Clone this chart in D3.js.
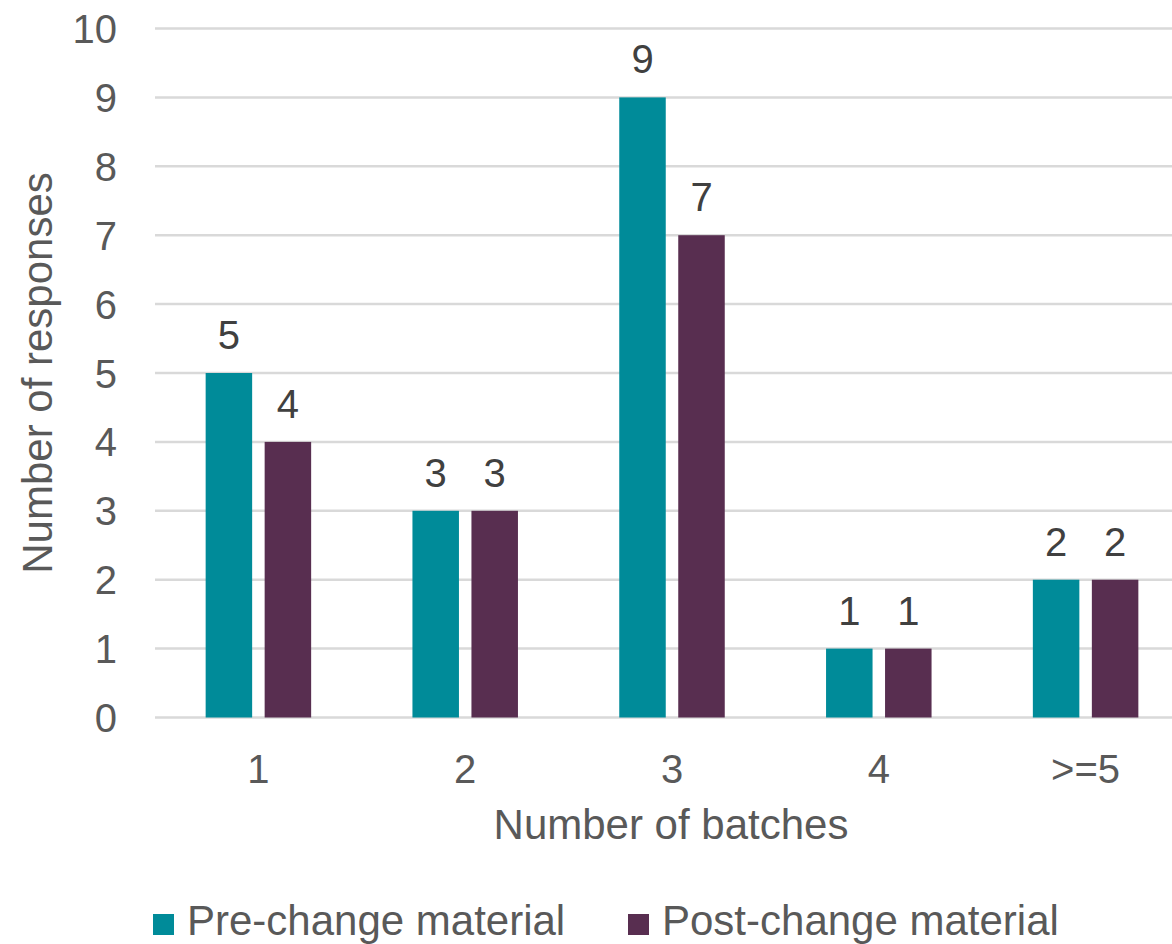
<!DOCTYPE html>
<html>
<head>
<meta charset="utf-8">
<script src="https://cdn.jsdelivr.net/npm/d3@7"></script>
<style>
  html, body { margin: 0; padding: 0; background: #fff; overflow: hidden; }
  svg { display: block; font-family: "Liberation Sans", Arial, sans-serif; }
</style>
</head>
<body>
<svg id="chart" width="1172" height="944"></svg>
<script>
// Survey responses by number of batches
const categories = ["1", "2", "3", "4", ">=5"];
const seriesNames = ["Pre-change material", "Post-change material"];
const preChange = [5, 3, 9, 1, 2];
const postChange = [4, 3, 7, 1, 2];
const yTicks = [0, 1, 2, 3, 4, 5, 6, 7, 8, 9, 10];
const colors = ["#008B99", "#582E50"];

const svg = d3.select("#chart");
const margin = { left: 155, right: -17, top: 28.5, bottom: 226.5 };
const W = 1172, H = 944;

const x = d3.scaleBand()
  .domain(categories)
  .range([margin.left, W - margin.right])
  .paddingInner(0).paddingOuter(0);

const y = d3.scaleLinear()
  .domain([0, 10])
  .range([H - margin.bottom, margin.top]);

const rows = categories.map((c, i) => ({ cat: c, values: [preChange[i], postChange[i]] }));

// two bars per category with a small gap between them
const barW = 46.5, barGap = 12.5;
const xs = d3.scaleBand()
  .domain([0, 1])
  .range([-(barW + barGap / 2), barW + barGap / 2])
  .paddingInner(barGap / (barW + barGap))
  .paddingOuter(0);

// gridlines
svg.append("g")
  .selectAll("line")
  .data(yTicks)
  .join("line")
  .attr("x1", margin.left)
  .attr("x2", W)
  .attr("y1", d => y(d))
  .attr("y2", d => y(d))
  .attr("stroke", "#d9d9d9")
  .attr("stroke-width", 2.5);

// y tick labels
const yAxis = d3.axisLeft(y).tickValues(yTicks).tickSize(0).tickPadding(0);
const gy = svg.append("g")
  .attr("transform", `translate(117,0)`)
  .call(yAxis);
gy.select(".domain").remove();
gy.selectAll("text")
  .attr("font-size", 40)
  .attr("fill", "#595959")
  .attr("dy", "0.35em")
  .attr("text-anchor", "end")
  .attr("font-family", "Liberation Sans, Arial, sans-serif");

// bars
const groups = svg.append("g")
  .selectAll("g")
  .data(rows)
  .join("g")
  .attr("transform", d => `translate(${x(d.cat) + x.bandwidth() / 2},0)`);

groups.selectAll("rect")
  .data(d => d.values.map((v, k) => ({ v, k })))
  .join("rect")
  .attr("x", d => xs(d.k))
  .attr("width", xs.bandwidth())
  .attr("y", d => y(d.v))
  .attr("height", d => y(0) - y(d.v))
  .attr("fill", d => colors[d.k]);

// value labels
groups.selectAll("text")
  .data(d => d.values.map((v, k) => ({ v, k })))
  .join("text")
  .attr("x", d => xs(d.k) + xs.bandwidth() / 2)
  .attr("y", d => y(d.v) - 24)
  .attr("text-anchor", "middle")
  .attr("font-size", 40)
  .attr("fill", "#404040")
  .text(d => d.v);

// x axis labels
const xAxis = d3.axisBottom(x).tickSize(0).tickPadding(0);
const gx = svg.append("g")
  .attr("transform", `translate(0,${y(0)})`)
  .call(xAxis);
gx.select(".domain").remove();
gx.selectAll("text")
  .attr("font-size", 40)
  .attr("fill", "#595959")
  .attr("dy", null)
  .attr("y", 65)
  .attr("font-family", "Liberation Sans, Arial, sans-serif");

// axis titles
svg.append("text")
  .attr("x", 671)
  .attr("y", 839)
  .attr("text-anchor", "middle")
  .attr("font-size", 42)
  .attr("fill", "#595959")
  .text("Number of batches");

svg.append("text")
  .attr("transform", `translate(52,${(y(0) + y(10)) / 2}) rotate(-90)`)
  .attr("text-anchor", "middle")
  .attr("font-size", 42)
  .attr("fill", "#595959")
  .text("Number of responses");

// legend
const legendX = [153, 628];
const legend = svg.append("g")
  .selectAll("g")
  .data(seriesNames)
  .join("g")
  .attr("transform", (d, i) => `translate(${legendX[i]},0)`);
legend.append("rect")
  .attr("x", 0).attr("y", 914)
  .attr("width", 21).attr("height", 21)
  .attr("fill", (d, i) => colors[i]);
legend.append("text")
  .attr("x", 34)
  .attr("y", 935)
  .attr("font-size", 42)
  .attr("fill", "#595959")
  .text(d => d);
</script>
</body>
</html>
